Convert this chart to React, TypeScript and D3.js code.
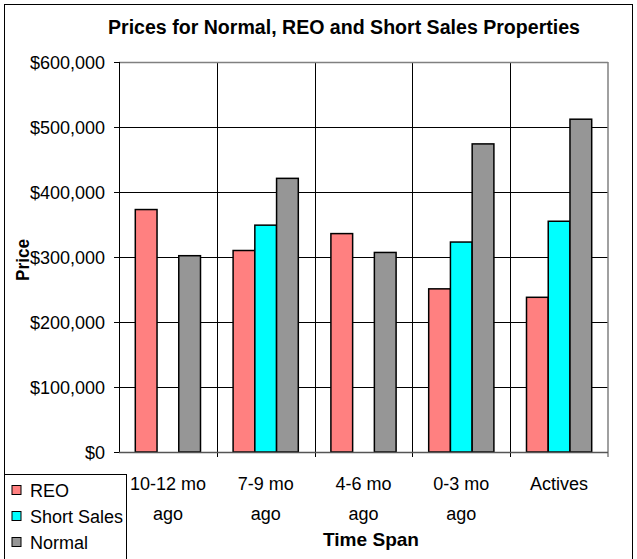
import React from "react";
import * as d3 from "d3";

const categories = ["10-12 mo|ago", "7-9 mo|ago", "4-6 mo|ago", "0-3 mo|ago", "Actives"];
const seriesNames = ["REO", "Short Sales", "Normal"];
const reoValues = [373000, 310000, 336000, 251000, 238000];
const shortSalesValues: (number | null)[] = [null, 349000, null, 323000, 355000];
const normalValues = [302000, 421000, 307000, 474000, 512000];
const yTicks = [0, 100000, 200000, 300000, 400000, 500000, 600000];
const seriesColors = ["#FF8080", "#00FFFF", "#969696"];

const W = 637;
const H = 559;
const plot = { left: 119, right: 608, top: 62, bottom: 452 };
const FONT = "Arial, 'Liberation Sans', sans-serif";

export default function App() {
  const x = d3.scaleBand<string>().domain(categories).range([plot.left, plot.right]).paddingInner(0).paddingOuter(0);
  const xs = d3.scaleBand<string>().domain(seriesNames).range([0, x.bandwidth()]).paddingInner(0).paddingOuter(0.75);
  const y = d3.scaleLinear().domain([0, 600000]).range([plot.bottom, plot.top]);
  const fmt = (v: number) => "$" + d3.format(",")(v);
  const allSeries = [reoValues, shortSalesValues, normalValues];

  return (
    <svg width={W} height={H} style={{ position: "absolute", left: 0, top: 0, background: "#fff" }} fontFamily={FONT}>
      <rect x={0} y={0} width={W} height={H} fill="#fff" />
      {/* outer border */}
      <rect x={4.5} y={4.5} width={628} height={H + 10} fill="none" stroke="#000" strokeWidth={1} />
      {/* title */}
      <text x={344} y={34} textAnchor="middle" fontSize={20} fontWeight="bold" textLength={472} lengthAdjust="spacingAndGlyphs">
        Prices for Normal, REO and Short  Sales Properties
      </text>
      {/* horizontal gridlines */}
      {yTicks.map((t) => (
        <g key={t}>
          {t > 0 && t < 600000 && (
            <line x1={plot.left} x2={plot.right} y1={Math.round(y(t)) + 0.5} y2={Math.round(y(t)) + 0.5} stroke="#000" strokeWidth={1} />
          )}
          <line x1={plot.left - 5} x2={plot.left} y1={Math.round(y(t)) + 0.5} y2={Math.round(y(t)) + 0.5} stroke="#000" />
          <text x={105} y={y(t) + 6.5} textAnchor="end" fontSize={18}>
            {fmt(t)}
          </text>
        </g>
      ))}
      {/* vertical category gridlines */}
      {categories.slice(1).map((c) => (
        <line key={c} x1={Math.round(x(c)!) + 0.5} x2={Math.round(x(c)!) + 0.5} y1={plot.top} y2={plot.bottom + 5} stroke="#000" strokeWidth={1} />
      ))}
      {/* plot border top/right */}
      <line x1={plot.left} x2={plot.right} y1={plot.top + 0.5} y2={plot.top + 0.5} stroke="#808080" strokeWidth={1.5} />
      <line x1={plot.right} x2={plot.right} y1={plot.top} y2={plot.bottom + 5} stroke="#808080" strokeWidth={1.5} />
      {/* bars */}
      {categories.map((c, ci) => (
        <g key={c} transform={`translate(${x(c)},0)`}>
          {allSeries.map((arr, si) => {
            const v = arr[ci];
            if (v == null) return null;
            return (
              <rect
                key={si}
                x={xs(seriesNames[si])}
                y={y(v)}
                width={xs.bandwidth()}
                height={y(0) - y(v)}
                fill={seriesColors[si]}
                stroke="#000"
                strokeWidth={1.5}
              />
            );
          })}
        </g>
      ))}
      {/* axes */}
      <line x1={plot.left + 0.5} x2={plot.left + 0.5} y1={plot.top} y2={plot.bottom} stroke="#000" strokeWidth={1} />
      <line x1={plot.left} x2={plot.right} y1={plot.bottom + 0.5} y2={plot.bottom + 0.5} stroke="#555" strokeWidth={1.5} />
      {/* x labels */}
      {categories.map((c) => {
        const lines = c.split("|");
        const cx = x(c)! + x.bandwidth() / 2;
        return (
          <text key={c} x={cx} textAnchor="middle" fontSize={18}>
            {lines.map((l, i) => (
              <tspan key={i} x={cx} y={490 + i * 30}>
                {l}
              </tspan>
            ))}
          </text>
        );
      })}
      {/* axis titles */}
      <text x={371} y={546} textAnchor="middle" fontSize={19} fontWeight="bold" textLength={96} lengthAdjust="spacingAndGlyphs">
        Time Span
      </text>
      <text transform="translate(29,260) rotate(-90)" textAnchor="middle" fontSize={19} fontWeight="bold" textLength={42} lengthAdjust="spacingAndGlyphs">
        Price
      </text>
      {/* legend */}
      <rect x={4.5} y={474.5} width={122} height={100} fill="#fff" stroke="#000" strokeWidth={1} />
      {seriesNames.map((s, i) => (
        <g key={s} transform={`translate(0,${490 + i * 26})`}>
          <rect x={12} y={-4.5} width={9} height={9} fill={seriesColors[i]} stroke="#000" strokeWidth={1} />
          <text x={30} y={6.5} fontSize={18}>
            {s}
          </text>
        </g>
      ))}
    </svg>
  );
}
